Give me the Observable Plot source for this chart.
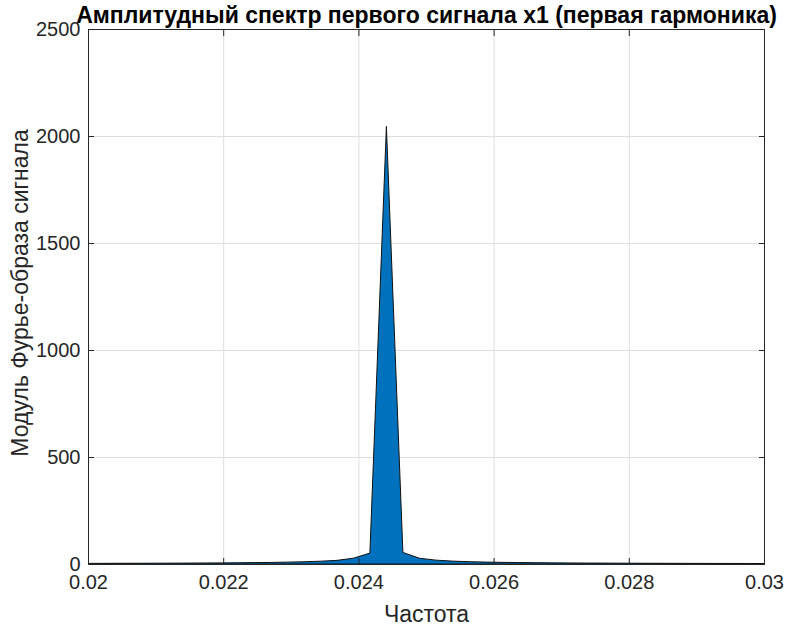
<!DOCTYPE html>
<html>
<head>
<meta charset="utf-8">
<script src="https://cdn.jsdelivr.net/npm/d3@7"></script>
<script src="https://cdn.jsdelivr.net/npm/@observablehq/plot@0.6"></script>
<style>
  html, body { margin: 0; padding: 0; background: #fff; }
  svg { display: block; }
</style>
</head>
<body>
<div id="chart"></div>
<script>
// Frequency bins (k / 4096) and amplitude spectrum values
const bins = [81,82,83,84,85,86,87,88,89,90,91,92,93,94,95,96,97,98,99,100,
              101,102,103,104,105,106,107,108,109,110,111,112,113,114,115,116,117,118,119,120,121,122,123];
const amplitudes = [2.7,2.9,3.1,3.3,3.5,3.7,4.0,4.3,4.7,5.2,5.8,6.5,7.4,8.7,10.4,13,17,27,51,2045,
                    54,27,18,13.5,10.8,9,7.7,6.8,6,5.4,4.9,4.5,4.2,3.9,3.6,3.4,3.2,3.0,2.8,2.7,2.6,2.4,2.3];
const xTicks = [0.02, 0.022, 0.024, 0.026, 0.028, 0.03];
const yTicks = [0, 500, 1000, 1500, 2000, 2500];
const titleText = "Амплитудный спектр первого сигнала x1 (первая гармоника)";
const xLabel = "Частота";
const yLabel = "Модуль Фурье-образа сигнала";

const data = bins.map((k, i) => ({f: k / 4096, a: amplitudes[i]}));
const ink = "#262626";

const chart = Plot.plot({
  width: 786,
  height: 627,
  marginLeft: 88,
  marginRight: 22,
  marginTop: 29,
  marginBottom: 63,
  style: {fontFamily: "'Liberation Sans', Arial, sans-serif", fontSize: "20px", color: ink, background: "#fff"},
  x: {domain: [0.02, 0.03]},
  y: {domain: [0, 2500]},
  marks: [
    Plot.gridX(xTicks, {stroke: "#dedede", strokeOpacity: 1}),
    Plot.gridY(yTicks, {stroke: "#dedede", strokeOpacity: 1}),
    Plot.areaY(data, {x: "f", y: "a", fill: "#0072BD", stroke: "#111", strokeWidth: 1, clip: true}),
    Plot.frame({stroke: ink, strokeWidth: 1}),
    // inward ticks
    Plot.axisX(xTicks, {anchor: "bottom", tickSize: -6, text: null, label: null, stroke: ink}),
    Plot.axisX(xTicks, {anchor: "top", tickSize: -6, text: null, label: null, stroke: ink}),
    Plot.axisY(yTicks, {anchor: "left", tickSize: -6, text: null, label: null, stroke: ink}),
    Plot.axisY(yTicks, {anchor: "right", tickSize: -6, text: null, label: null, stroke: ink}),
    // tick labels
    Plot.axisX(xTicks, {anchor: "bottom", tickSize: 0, tickPadding: 10, tickFormat: d => String(d), fontSize: 20, fill: ink, label: null}),
    Plot.axisY(yTicks, {anchor: "left", tickSize: 0, tickPadding: 8, tickFormat: d => String(d), fontSize: 20, fill: ink, label: null}),
    // axis titles
    Plot.text([xLabel], {frameAnchor: "bottom", dy: 50, text: d => d, fontSize: 23, fill: ink, lineAnchor: "middle", textAnchor: "middle"}),
    Plot.text([yLabel], {frameAnchor: "left", dx: -68, dy: -4, rotate: -90, text: d => d, fontSize: 23, fill: ink, lineAnchor: "middle", textAnchor: "middle"}),
    Plot.text([titleText], {frameAnchor: "top", dy: -14, text: d => d, fontWeight: "bold", fontSize: 23, fill: "#000", lineAnchor: "middle"})
  ]
});
document.getElementById("chart").appendChild(chart);
</script>
</body>
</html>
